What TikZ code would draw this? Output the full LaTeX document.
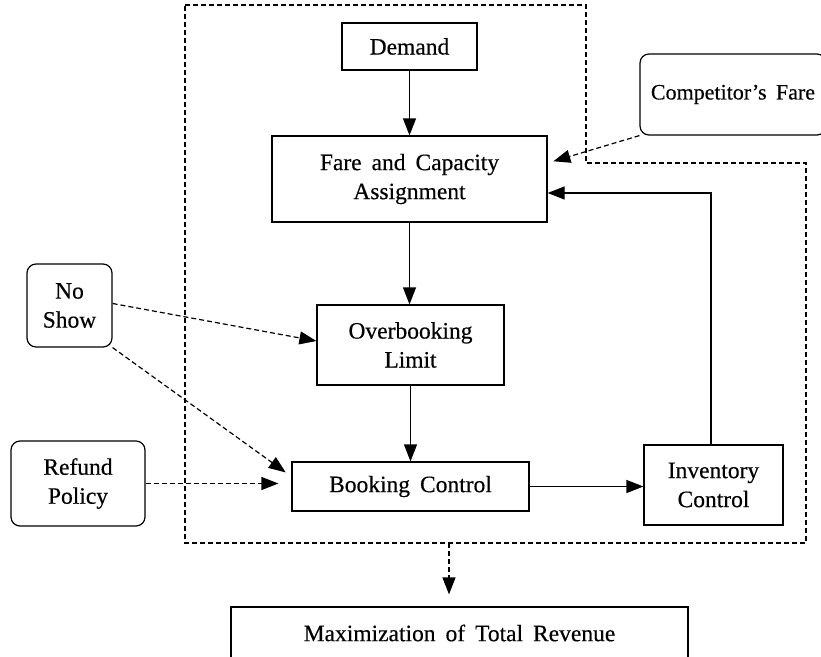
\documentclass[tikz,border=0pt]{standalone}
\usepackage{fontspec}
\setmainfont{Liberation Serif}[WordSpace=1.7,FakeBold=0.4]
\usetikzlibrary{arrows.meta}

\begin{document}
\begin{tikzpicture}[x=1pt,y=-1pt,
        box/.style={draw,line width=1.2pt,align=center,inner sep=0pt,
            font=\fontsize{23.5}{29}\selectfont},
        rbox/.style={box,rounded corners=9pt},
        arr/.style={line width=1.2pt,-{Triangle[length=17pt,width=13pt]}},
        dasharr/.style={arr,dash pattern=on 5pt off 3pt}
    ]
        \useasboundingbox (0,0) rectangle (821,656);
        % Boxes inside the region
        \node[box,minimum width=135pt,minimum height=47pt] (dem) at (409.5,46.5) {Demand};
        \node[box,minimum width=275pt,minimum height=86pt] (fca) at (409.5,179) {Fare and Capacity\\Assignment};
        \node[box,minimum width=187pt,minimum height=80pt] (obl) at (410.5,345) {Overbooking\\Limit};
        \node[box,minimum width=237pt,minimum height=49pt] (bc) at (410.5,486.5) {Booking Control};
        \node[box,minimum width=139pt,minimum height=80pt] (ic) at (713.5,485) {Inventory\\Control};
        % Outside factors
        \node[rbox,minimum width=186pt,minimum height=81pt,font=\fontsize{22}{29}\selectfont] (cf) at (733,94.5) {Competitor’s Fare};
        \node[rbox,minimum width=85pt,minimum height=83pt] (ns) at (69.5,305.5) {No\\Show};
        \node[rbox,minimum width=134pt,minimum height=85pt] (rp) at (78,483.5) {Refund\\Policy};
        \node[box,minimum width=457pt,minimum height=52pt] (mtr) at (459.5,633) {Maximization of Total Revenue};
        % Dashed region
        \draw[line width=1.2pt,dash pattern=on 5pt off 3pt]
            (185,5) -- (586,5) -- (586,163) -- (806,163) -- (806,543) -- (185,543) -- cycle;
        \coordinate (out) at (449,543);
        % Solid flows
        \draw[arr] (dem) -- (fca);
        \draw[arr] (fca.south) -- (fca.south |- obl.north);
        \draw[arr] (obl) -- (bc);
        \draw[arr] (bc.east) -- (bc.east -| ic.west);
        \draw[arr] ([xshift=-2.5pt]ic.north) |- ([yshift=-14pt]fca.east);
        % Dashed influences
        \draw[dasharr,shorten >=6pt] (cf.south west) -- ([yshift=16pt]fca.east);
        \draw[dasharr] ([yshift=2pt]ns.east) -- ([yshift=4pt]obl.west);
        \draw[dasharr,shorten >=7pt] (ns.south east) -- ([yshift=10pt]bc.west);
        \draw[dasharr,shorten >=13pt] (rp.east) -- (rp.east -| bc.west);
        \draw[dasharr,shorten >=12pt] (out) -- (out |- mtr.north);
    \end{tikzpicture}
\end{document}
